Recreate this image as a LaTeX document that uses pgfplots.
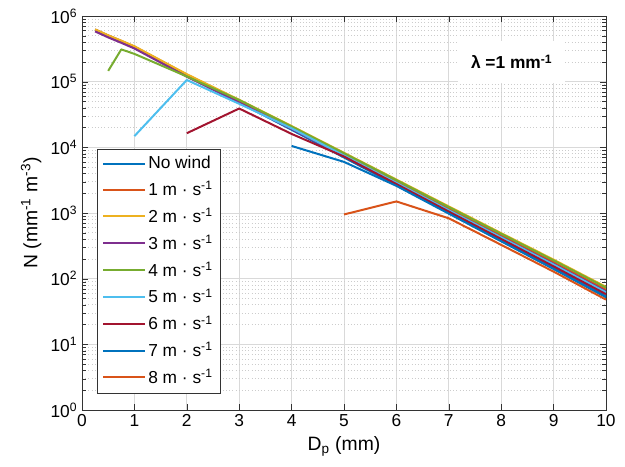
\documentclass[border=0pt]{standalone}
\usepackage{fontspec}
\setmainfont{Liberation Sans}
\usepackage{pgfplots}
\pgfplotsset{compat=1.18}
\definecolor{mc1}{HTML}{0072BD}
\definecolor{mc2}{HTML}{D95319}
\definecolor{mc3}{HTML}{EDB120}
\definecolor{mc4}{HTML}{7E2F8E}
\definecolor{mc5}{HTML}{77AC30}
\definecolor{mc6}{HTML}{4DBEEE}
\definecolor{mc7}{HTML}{A2142F}
\begin{document}
\begin{tikzpicture}
\begin{axis}[
    name=ax,
    scale only axis,
    width=393pt, height=295.5pt,
    xmin=0, xmax=10, ymin=1, ymax=1e6,
    ymode=log,
    xtick={0,1,2,3,4,5,6,7,8,9,10},
    xticklabels={0,1,2,3,4,5,6,7,8,9,10},
    ytick={1,10,100,1000,10000,100000,1000000},
    yticklabels={10\textsuperscript{0},10\textsuperscript{1},10\textsuperscript{2},10\textsuperscript{3},10\textsuperscript{4},10\textsuperscript{5},10\textsuperscript{6}},
    minor ytick={2,3,4,5,6,7,8,9,20,30,40,50,60,70,80,90,200,300,400,500,600,700,800,900,2000,3000,4000,5000,6000,7000,8000,9000,20000,30000,40000,50000,60000,70000,80000,90000,200000,300000,400000,500000,600000,700000,800000,900000},
    tick align=inside,
    axis line style={black!80},
    tick style={black!80},
    ticklabel style={font=\fontsize{13}{13}\selectfont},
    label style={font=\fontsize{14.5}{15}\selectfont},
    xlabel={D\textsubscript{p} (mm)},
    ylabel={N (mm\textsuperscript{-1} m\textsuperscript{-3})},
    xmajorgrids, ymajorgrids, yminorgrids,
    major grid style={gray!30, line width=0.5pt},
    minor grid style={gray!40, dotted, line width=0.5pt},
    every axis plot/.append style={line width=1.5pt, line join=round},
    legend cell align=left,
    legend image code/.code={\draw[#1] (0pt,0pt) -- (31pt,0pt);},
    legend style={at={(0.028,0.043)}, anchor=south west, draw=black!80,
        fill=white, font=\fontsize{13}{14}\selectfont, row sep=4pt,
        inner xsep=4pt, inner ysep=3.5pt},
]
\addplot[mc1] coordinates {(0.25,6.2e5) (0.5,5.0e5) (0.75,4.1e5) (1,3.35e5) (2,1.22e5) (3,4.8e4) (4,1.85e4) (5,7.0e3) (6,2.65e3) (7,1.0e3) (8,3.8e2) (9,1.45e2) (10,54)};
\addplot[mc2] coordinates {(0.25,6.23e5) (0.5,5.06e5) (0.75,4.18e5) (1,3.43e5) (2,1.28e5) (3,5.14e4) (4,2.03e4) (5,7.85e3) (6,3.04e3) (7,1.17e3) (8,4.57e2) (9,1.78e2) (10,68)};
\addplot[mc3] coordinates {(0.25,6.25e5) (0.5,5.08e5) (0.75,4.21e5) (1,3.46e5) (2,1.30e5) (3,5.30e4) (4,2.11e4) (5,8.26e3) (6,3.23e3) (7,1.26e3) (8,4.94e2) (9,1.95e2) (10,75)};
\addplot[mc4] coordinates {(0.25,5.82e5) (0.5,4.72e5) (0.75,3.90e5) (1,3.20e5) (2,1.19e5) (3,4.81e4) (4,1.90e4) (5,7.36e3) (6,2.85e3) (7,1.10e3) (8,4.30e2) (9,1.68e2) (10,64)};
\addplot[mc5] coordinates {(0.5,1.46e5) (0.75,3.1e5) (1,2.65e5) (2,1.2e5) (3,5.25e4) (4,2.08e4) (5,8.13e3) (6,3.17e3) (7,1.23e3) (8,4.83e2) (9,1.90e2) (10,73)};
\addplot[mc6] coordinates {(1,1.48e4) (2,1.06e5) (3,4.6e4) (4,1.95e4) (5,7.5e3) (6,2.88e3) (7,1.10e3) (8,4.25e2) (9,1.64e2) (10,62)};
\addplot[mc7] coordinates {(2,1.64e4) (3,3.9e4) (4,1.6e4) (5,7.24e3) (6,2.76e3) (7,1.05e3) (8,4.02e2) (9,1.54e2) (10,58)};
\addplot[mc1] coordinates {(4,1.05e4) (5,6.0e3) (6,2.59e3) (7,977) (8,370) (9,140) (10,52)};
\addplot[mc2] coordinates {(5,9.5e2) (6,1.5e3) (7,8.3e2) (8,327) (9,128) (10,48)};
\legend{No wind,1 m · s\textsuperscript{-1},2 m · s\textsuperscript{-1},3 m · s\textsuperscript{-1},4 m · s\textsuperscript{-1},5 m · s\textsuperscript{-1},6 m · s\textsuperscript{-1},7 m · s\textsuperscript{-1},8 m · s\textsuperscript{-1}}
\node[fill=white, inner sep=0pt, minimum width=80pt, minimum height=32pt,
    font=\fontsize{13}{13}\selectfont\bfseries] at (axis cs:8.2,2.0e5) {λ =1 mm\textsuperscript{-1}};
\end{axis}
\pgfresetboundingbox
\path ([shift={(-61.5pt,-42.75pt)}]ax.south west) rectangle ([shift={(14.25pt,12pt)}]ax.north east);
\end{tikzpicture}
\end{document}
